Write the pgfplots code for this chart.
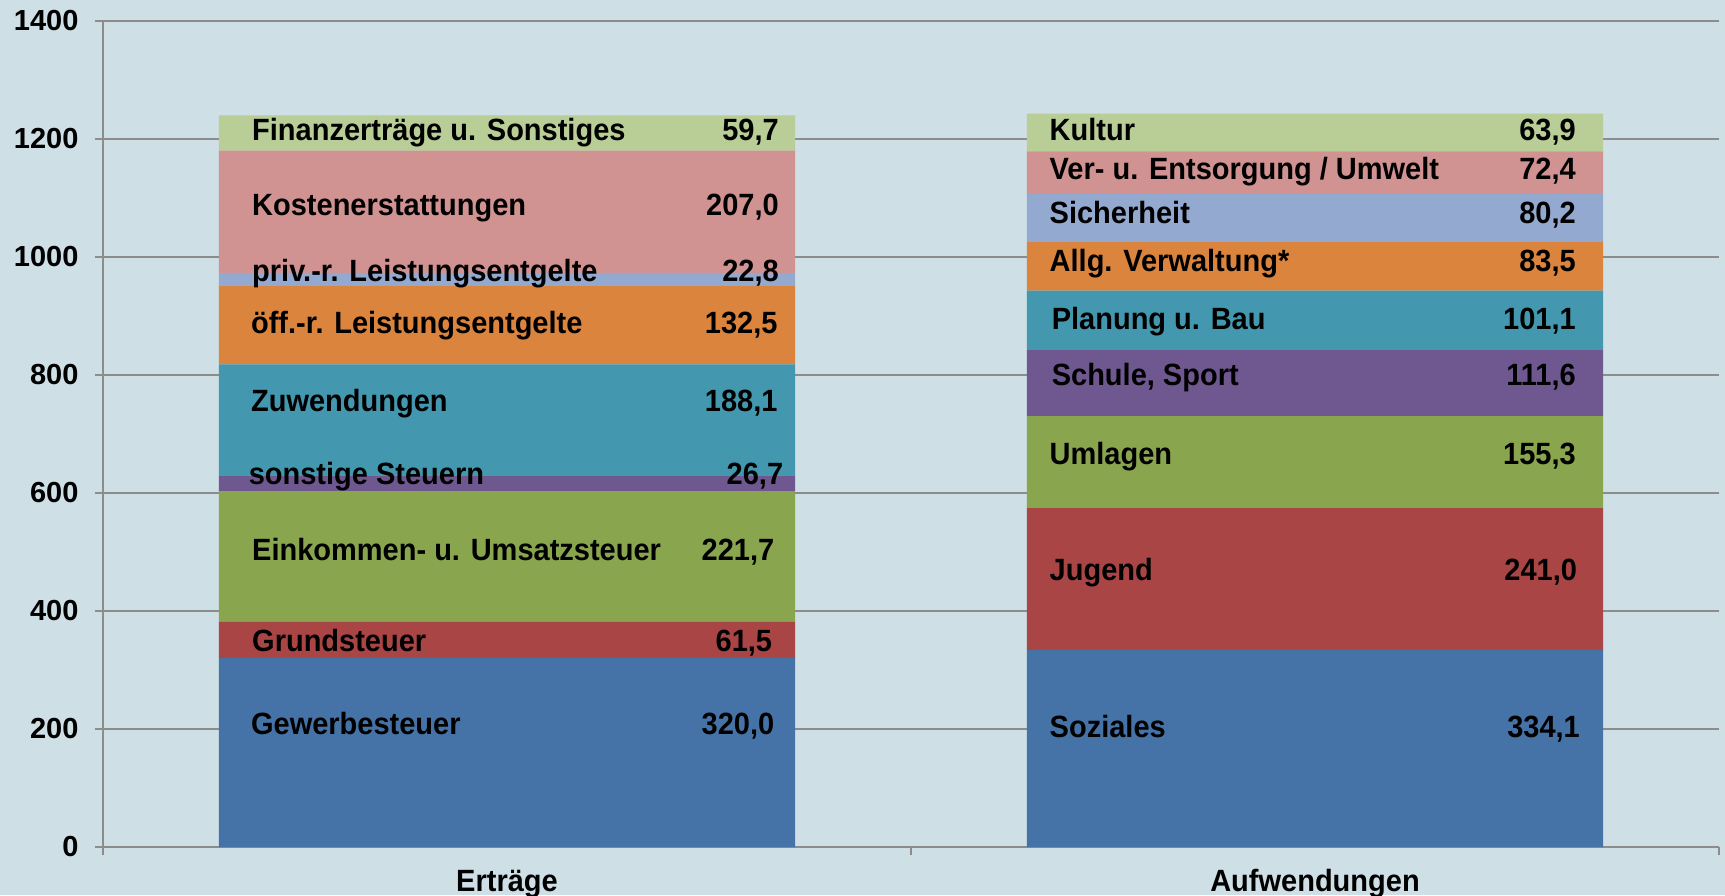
\documentclass[border=0pt]{standalone}
\usepackage{fontspec}
\setmainfont{Liberation Sans}
\usepackage{pgfplots}
\pgfplotsset{compat=1.18}
\usetikzlibrary{backgrounds}
\definecolor{bg}{HTML}{CEDFE6}
\definecolor{gridc}{HTML}{8C8C8C}
\definecolor{c1}{HTML}{4573A7}
\definecolor{c2}{HTML}{A94545}
\definecolor{c3}{HTML}{89A54E}
\definecolor{c4}{HTML}{6F588F}
\definecolor{c5}{HTML}{4398AF}
\definecolor{c6}{HTML}{DB843D}
\definecolor{c7}{HTML}{93A9CF}
\definecolor{c8}{HTML}{D19392}
\definecolor{c9}{HTML}{B9CD96}
\newcommand{\lbl}{\bfseries\fontsize{29}{31}\selectfont}
\newcommand{\T}[1]{\scalebox{1}[1.06]{#1}}
\begin{document}
\begin{tikzpicture}[lw/.style={anchor=base west, font=\lbl, inner sep=0pt, yshift=-10.8pt},
                    le/.style={anchor=base east, font=\lbl, inner sep=0pt, yshift=-10.8pt}]
\begin{axis}[
  scale only axis, width=1616pt, height=826pt,
  ybar stacked, bar width=0.713,
  xmin=-0.5, xmax=1.5, ymin=0, ymax=1400,
  xtick={-0.5,0.5,1.5}, xticklabels={},
  extra x ticks={0,1}, extra x tick labels={\T{Erträge},\T{Aufwendungen}},
  extra x tick style={major tick length=0pt, xticklabel style={font=\lbl, anchor=base, yshift=-44pt}},
  major tick length=8pt,
  ytick={0,200,...,1400},
  ymajorgrids, grid style={gridc, line width=1.6pt},
  axis lines*=left,
  axis line style={gridc, line width=2pt, -},
  tick style={gridc, line width=1.4pt},
  tick align=outside,
  clip=false,
  /pgf/number format/assume math mode=true,
  /pgf/number format/1000 sep={},
  yticklabel style={font=\lbl, xshift=-13pt},
]
\addplot[fill=c1, draw=none] coordinates {(0,320.0) (1,334.1)};
\addplot[fill=c2, draw=none] coordinates {(0,61.5) (1,241.0)};
\addplot[fill=c3, draw=none] coordinates {(0,221.7) (1,155.3)};
\addplot[fill=c4, draw=none] coordinates {(0,26.7) (1,111.6)};
\addplot[fill=c5, draw=none] coordinates {(0,188.1) (1,101.1)};
\addplot[fill=c6, draw=none] coordinates {(0,132.5) (1,83.5)};
\addplot[fill=c7, draw=none] coordinates {(0,22.8) (1,80.2)};
\addplot[fill=c8, draw=none] coordinates {(0,207.0) (1,72.4)};
\addplot[fill=c9, draw=none] coordinates {(0,59.7) (1,63.9)};
\coordinate (bl) at (rel axis cs:0,0);
\coordinate (tr) at (rel axis cs:1,1);
% left bar label anchors
\coordinate (L1) at (axis cs:-0.3156,1215);
\coordinate (L2) at (axis cs:-0.3156,1088);
\coordinate (L3) at (axis cs:-0.3156,976);
\coordinate (L4) at (axis cs:-0.3170,888);
\coordinate (L5) at (axis cs:-0.3170,756);
\coordinate (L6) at (axis cs:-0.3198,633);
\coordinate (L7) at (axis cs:-0.3156,504);
\coordinate (L8) at (axis cs:-0.3156,349);
\coordinate (L9) at (axis cs:-0.3170,209);
\coordinate (V1) at (axis cs:0.3365,1215);
\coordinate (V2) at (axis cs:0.3365,1088);
\coordinate (V3) at (axis cs:0.3365,976);
\coordinate (V4) at (axis cs:0.3350,888);
\coordinate (V5) at (axis cs:0.3350,756);
\coordinate (V6) at (axis cs:0.3420,633);
\coordinate (V7) at (axis cs:0.3310,504);
\coordinate (V8) at (axis cs:0.3283,349);
\coordinate (V9) at (axis cs:0.3310,209);
% right bar label anchors
\coordinate (R1) at (axis cs:0.6714,1215);
\coordinate (R2) at (axis cs:0.6714,1150);
\coordinate (R3) at (axis cs:0.6714,1075);
\coordinate (R4) at (axis cs:0.6714,993);
\coordinate (R5) at (axis cs:0.6740,896);
\coordinate (R6) at (axis cs:0.6740,801);
\coordinate (R7) at (axis cs:0.6714,666);
\coordinate (R8) at (axis cs:0.6714,470);
\coordinate (R9) at (axis cs:0.6714,203.5);
\coordinate (W1) at (axis cs:1.3230,1215);
\coordinate (W2) at (axis cs:1.3230,1150);
\coordinate (W3) at (axis cs:1.3230,1075);
\coordinate (W4) at (axis cs:1.3230,993);
\coordinate (W5) at (axis cs:1.3230,896);
\coordinate (W6) at (axis cs:1.3230,801);
\coordinate (W7) at (axis cs:1.3230,666);
\coordinate (W8) at (axis cs:1.3245,470);
\coordinate (W9) at (axis cs:1.3280,203.5);
\end{axis}
\node[lw] at (L1) {\T{Finanzerträge u. Sonstiges}};
\node[lw] at (L2) {\T{Kostenerstattungen}};
\node[lw] at (L3) {\T{priv.-r. Leistungsentgelte}};
\node[lw] at (L4) {\T{öff.-r. Leistungsentgelte}};
\node[lw] at (L5) {\T{Zuwendungen}};
\node[lw] at (L6) {\T{sonstige Steuern}};
\node[lw] at (L7) {\T{Einkommen- u. Umsatzsteuer}};
\node[lw] at (L8) {\T{Grundsteuer}};
\node[lw] at (L9) {\T{Gewerbesteuer}};
\node[le] at (V1) {\T{59,7}};
\node[le] at (V2) {\T{207,0}};
\node[le] at (V3) {\T{22,8}};
\node[le] at (V4) {\T{132,5}};
\node[le] at (V5) {\T{188,1}};
\node[le] at (V6) {\T{26,7}};
\node[le] at (V7) {\T{221,7}};
\node[le] at (V8) {\T{61,5}};
\node[le] at (V9) {\T{320,0}};
\node[lw] at (R1) {\T{Kultur}};
\node[lw] at (R2) {\T{Ver- u. Entsorgung / Umwelt}};
\node[lw] at (R3) {\T{Sicherheit}};
\node[lw] at (R4) {\T{Allg. Verwaltung*}};
\node[lw] at (R5) {\T{Planung u. Bau}};
\node[lw] at (R6) {\T{Schule, Sport}};
\node[lw] at (R7) {\T{Umlagen}};
\node[lw] at (R8) {\T{Jugend}};
\node[lw] at (R9) {\T{Soziales}};
\node[le] at (W1) {\T{63,9}};
\node[le] at (W2) {\T{72,4}};
\node[le] at (W3) {\T{80,2}};
\node[le] at (W4) {\T{83,5}};
\node[le] at (W5) {\T{101,1}};
\node[le] at (W6) {\T{111,6}};
\node[le] at (W7) {\T{155,3}};
\node[le] at (W8) {\T{241,0}};
\node[le] at (W9) {\T{334,1}};
\begin{scope}[on background layer]
\fill[bg] ([shift={(-103pt,-48pt)}]bl) rectangle ([shift={(6pt,21pt)}]tr);
\end{scope}
\pgfresetboundingbox
\path[use as bounding box] ([shift={(-103pt,-48pt)}]bl) rectangle ([shift={(6pt,21pt)}]tr);
\end{tikzpicture}
\end{document}
